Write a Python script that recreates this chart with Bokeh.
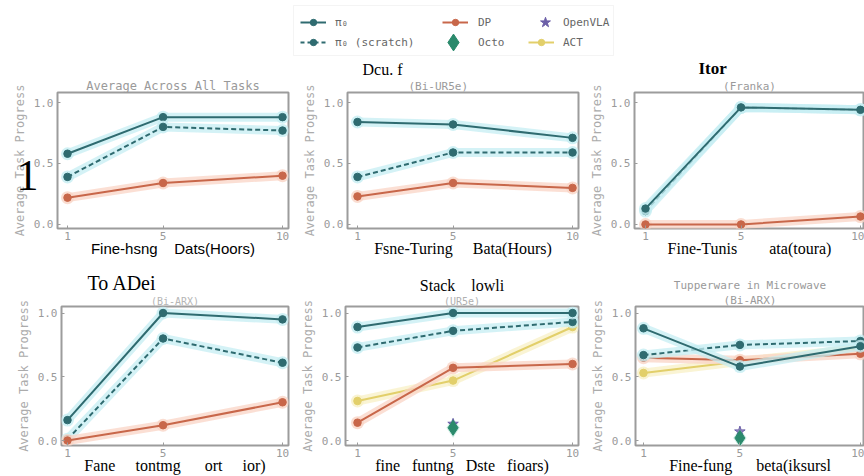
from bokeh.plotting import figure
from bokeh.layouts import column, row
from bokeh.models import (Range1d, FixedTicker, Legend, LegendItem, BoxAnnotation, Title,
                          LinearAxis, PrintfTickFormatter)
from bokeh.embed import file_html
from bokeh.resources import INLINE

# ---------------- data ----------------
hours = [1, 5, 10]
x_ticks = [1, 5, 10]
y_ticks = [0.0, 0.5, 1.0]

avg_pi0 = [0.58, 0.88, 0.88]
avg_scratch = [0.39, 0.80, 0.77]
avg_dp = [0.22, 0.34, 0.40]

ur5e_pi0 = [0.84, 0.82, 0.71]
ur5e_scratch = [0.39, 0.59, 0.59]
ur5e_dp = [0.23, 0.34, 0.30]

franka_pi0 = [0.13, 0.96, 0.94]
franka_scratch = [0.11, 0.96, 0.94]
franka_dp = [0.0, 0.0, 0.065]

towel_pi0 = [0.16, 1.0, 0.95]
towel_scratch = [0.01, 0.80, 0.61]
towel_dp = [0.0, 0.12, 0.30]

stack_pi0 = [0.89, 1.0, 1.0]
stack_scratch = [0.73, 0.86, 0.93]
stack_dp = [0.14, 0.57, 0.60]
stack_act = [0.31, 0.47, 0.89]
stack_octo = [0.10]
stack_vla = [0.13]

tupper_pi0 = [0.88, 0.58, 0.74]
tupper_scratch = [0.67, 0.75, 0.78]
tupper_dp = [0.65, 0.63, 0.68]
tupper_act = [0.53, 0.62, 0.72]
tupper_octo = [0.02]
tupper_vla = [0.07]

octo_hours = [5]

legend_labels = ["π₀", "π₀ (scratch)", "DP", "Octo", "OpenVLA", "ACT"]
y_axis_title = "Average Task Progress"

NB = "\u00a0"

# ---------------- style ----------------
MONO = "DejaVu Sans Mono"
SERIF = "Liberation Serif"
SANS = "Liberation Sans"
TEAL = "#2f6b70"
TEAL_HALO = "#c6eef3"
DP_C = "#c8674a"
DP_HALO = "#f9d4c6"
ACT_C = "#e2cf6a"
ACT_HALO = "#f8f0c6"
OCTO_C = "#2b8a6c"
VLA_C = "#6c5fa8"
GRAY = "#9a9a9a"


def make_panel(width, lb, rb, top_row, xr, xlabel, xlabel_font):
    if top_row:
        height, tb, bb, yr = 210, 36, 38, (-0.033, 1.082)
    else:
        height, tb, bb, yr = 210, 40, 31, (-0.039, 1.051)
    p = figure(width=width, height=height, x_range=Range1d(*xr), y_range=Range1d(*yr),
               output_backend="svg", toolbar_location=None, title=None,
               min_border_left=lb, min_border_right=rb, min_border_top=tb, min_border_bottom=bb)
    p.grid.visible = False
    p.outline_line_color = "#9c9c9c"
    p.outline_line_width = 2
    p.background_fill_color = "white"
    for ax in (p.xaxis[0], p.yaxis[0]):
        ax.axis_line_color = None
        ax.major_tick_in = 3
        ax.major_tick_out = 0
        ax.major_tick_line_color = "#9c9c9c"
        ax.minor_tick_line_color = None
        ax.major_label_text_font = MONO
        ax.major_label_text_font_size = "11px"
        ax.major_label_text_color = GRAY
        ax.major_label_standoff = 4
    p.xaxis.ticker = FixedTicker(ticks=x_ticks)
    p.xaxis.major_label_standoff = 3
    p.yaxis.ticker = FixedTicker(ticks=y_ticks)
    p.yaxis.formatter = PrintfTickFormatter(format="%.1f")
    p.yaxis.axis_label = y_axis_title
    p.yaxis.axis_label_text_font = MONO
    p.yaxis.axis_label_text_font_size = "12px"
    p.yaxis.axis_label_text_font_style = "normal"
    p.yaxis.axis_label_text_color = "#ababab"
    p.yaxis.axis_label_standoff = 4
    p.xaxis.axis_label = xlabel
    p.xaxis.axis_label_text_font = xlabel_font
    p.xaxis.axis_label_text_font_size = "15px" if xlabel_font == SANS else "16px"
    p.xaxis.axis_label_text_font_style = "normal"
    p.xaxis.axis_label_text_color = "black"
    p.xaxis.axis_label_standoff = -3
    return p


def add_title(p, text, font, size, color, align="center", offset=0, style="normal"):
    p.add_layout(Title(text=text, text_font=font, text_font_size=f"{size}px", text_color=color,
                       text_font_style=style, align=align, offset=offset, standoff=0), "above")


def series(p, ys, color, halo, dash="solid"):
    p.line(hours, ys, line_color=halo, line_width=9, line_alpha=0.75,
           line_cap="round", line_join="round")
    p.scatter(hours, ys, size=13, fill_color=halo, line_color=None, fill_alpha=0.8)
    p.line(hours, ys, line_color=color, line_width=2, line_dash=dash)
    p.scatter(hours, ys, size=7.5, fill_color=color, line_color=color)


def octo_vla(p, octo, vla):
    p.scatter(octo_hours, octo, marker="diamond", size=20, fill_color="#bfe7dc", line_color=None, fill_alpha=0.8)
    p.scatter(octo_hours, vla, marker="star", size=11, fill_color=VLA_C, line_color=VLA_C, fill_alpha=0.7)
    p.scatter(octo_hours, octo, marker="diamond", size=15, fill_color=OCTO_C, line_color=OCTO_C)


def sp(n):
    return NB * n


# ---------------- top row ----------------
p1 = make_panel(290, 57, 2, True, (0.581, 10.25), "Fine-hsng" + sp(4) + "Dats(Hoors)", SANS)
series(p1, avg_pi0, TEAL, TEAL_HALO)
series(p1, avg_scratch, TEAL, TEAL_HALO, "5 3")
series(p1, avg_dp, DP_C, DP_HALO)
add_title(p1, "Average Across All Tasks", MONO, 12, GRAY)
one_pos = 0.4
one_axis = LinearAxis(ticker=FixedTicker(ticks=[one_pos]), major_label_overrides={one_pos: "1"},
                      axis_line_color=None, major_tick_line_color=None, minor_tick_line_color=None,
                      major_label_text_font=SERIF, major_label_text_font_size="44px",
                      major_label_text_color="black", major_label_standoff=-35)
p1.add_layout(one_axis, "left")

p2 = make_panel(290, 57, 2, True, (0.581, 10.25), "Fsne-Turing" + sp(5) + "Bata(Hours)", SERIF)
series(p2, ur5e_pi0, TEAL, TEAL_HALO)
series(p2, ur5e_scratch, TEAL, TEAL_HALO, "5 3")
series(p2, ur5e_dp, DP_C, DP_HALO)
add_title(p2, "(Bi-UR5e)", MONO, 11, GRAY, align="left", offset=61)
add_title(p2, "Dcu. f", SERIF, 16, "black", align="left", offset=15)

p3 = make_panel(284, 54, 0, True, (0.540, 10.17), "Fine-Tunis" + sp(8) + "ata(toura)", SERIF)
series(p3, franka_dp, DP_C, DP_HALO)
series(p3, franka_scratch, TEAL, TEAL_HALO, "5 3")
series(p3, franka_pi0, TEAL, TEAL_HALO)
add_title(p3, "(Franka)", MONO, 11, GRAY)
add_title(p3, "Itor", SERIF, 17, "black", align="left", offset=64, style="bold")

# ---------------- bottom row ----------------
p4 = make_panel(290, 61, 2, False, (0.749, 10.25),
                "Fane" + sp(5) + "tontmg" + sp(6) + "ort" + sp(5) + "ior)", SERIF)
series(p4, towel_pi0, TEAL, TEAL_HALO)
series(p4, towel_scratch, TEAL, TEAL_HALO, "5 3")
series(p4, towel_dp, DP_C, DP_HALO)
add_title(p4, "(Bi-ARX)", MONO, 10, "#b5b5b5")
add_title(p4, "To ADei", SERIF, 20, "black", align="left", offset=26)

p5 = make_panel(290, 55, 2, False, (0.498, 10.25),
                "fine" + sp(3) + "funtng" + sp(3) + "Dste" + sp(3) + "fioars)", SERIF)
series(p5, stack_act, ACT_C, ACT_HALO)
series(p5, stack_dp, DP_C, DP_HALO)
series(p5, stack_scratch, TEAL, TEAL_HALO, "5 3")
series(p5, stack_pi0, TEAL, TEAL_HALO)
octo_vla(p5, stack_octo, stack_vla)
add_title(p5, "(UR5e)", MONO, 10, "#b0b0b0")
add_title(p5, "Stack" + sp(4) + "lowli", SERIF, 16, "black")

p6 = make_panel(284, 55, 0, False, (0.668, 10.17), "Fine-fung" + sp(6) + "beta(iksursl", SERIF)
series(p6, tupper_act, ACT_C, ACT_HALO)
series(p6, tupper_dp, DP_C, DP_HALO)
series(p6, tupper_scratch, TEAL, TEAL_HALO, "5 3")
series(p6, tupper_pi0, TEAL, TEAL_HALO)
octo_vla(p6, tupper_octo, tupper_vla)
add_title(p6, "(Bi-ARX)", MONO, 11, GRAY)
add_title(p6, "Tupperware in Microwave", MONO, 11, GRAY)

# ---------------- legend strip ----------------
lg = figure(width=864, height=56, x_range=Range1d(0, 864), y_range=Range1d(0, 56),
            output_backend="svg", toolbar_location=None, min_border=0, title=None,
            x_axis_location=None, y_axis_location=None)
lg.grid.visible = False
lg.outline_line_color = None
lg.add_layout(BoxAnnotation(left=293, right=613, bottom=1, top=51, fill_color="white",
                            fill_alpha=1.0, line_color="#dcdcdc", line_width=1))

off_x = [-20, -10]
off_y = [-20, -20]
r_pi0 = [lg.line(off_x, off_y, line_color=TEAL, line_width=2),
         lg.scatter(off_x, off_y, size=7, fill_color=TEAL, line_color=TEAL)]
r_scr = [lg.line(off_x, off_y, line_color=TEAL, line_width=2, line_dash="4 3"),
         lg.scatter(off_x, off_y, size=7, fill_color=TEAL, line_color=TEAL)]
r_dp = [lg.line(off_x, off_y, line_color=DP_C, line_width=2),
        lg.scatter(off_x, off_y, size=7, fill_color=DP_C, line_color=DP_C)]
r_octo = [lg.scatter(off_x, off_y, marker="diamond", size=18, fill_color=OCTO_C, line_color=OCTO_C)]
r_vla = [lg.scatter(off_x, off_y, marker="star", size=11, fill_color=VLA_C, line_color=VLA_C)]
r_act = [lg.line(off_x, off_y, line_color=ACT_C, line_width=2),
         lg.scatter(off_x, off_y, size=6, fill_color=ACT_C, line_color=ACT_C)]

# (items, location, glyph size, label standoff)
groups = [
    ([(legend_labels[0], r_pi0), (legend_labels[1], r_scr)], (300, 6), (26, 16), 9),
    ([(legend_labels[2], r_dp)], (442, 26), (26, 16), 10),
    ([(legend_labels[3], r_octo)], (432, -7), (42, 42), 4),
    ([(legend_labels[4], r_vla)], (532, 21), (26, 26), 5),
    ([(legend_labels[5], r_act)], (528, 6), (26, 16), 9),
]
for items, loc, (gw, gh), so in groups:
    leg = Legend(items=[LegendItem(label=t, renderers=r) for t, r in items],
                 location=loc, orientation="vertical",
                 glyph_width=gw, glyph_height=gh, label_height=gh, label_standoff=so,
                 spacing=4, padding=0, margin=0,
                 label_text_font=MONO, label_text_font_size="11px", label_text_color="#666666",
                 border_line_color=None, background_fill_alpha=0.0)
    lg.add_layout(leg, "center")

layout = column(lg, row(p1, p2, p3), row(p4, p5, p6))

open("out.html", "w").write(file_html(layout, INLINE))
